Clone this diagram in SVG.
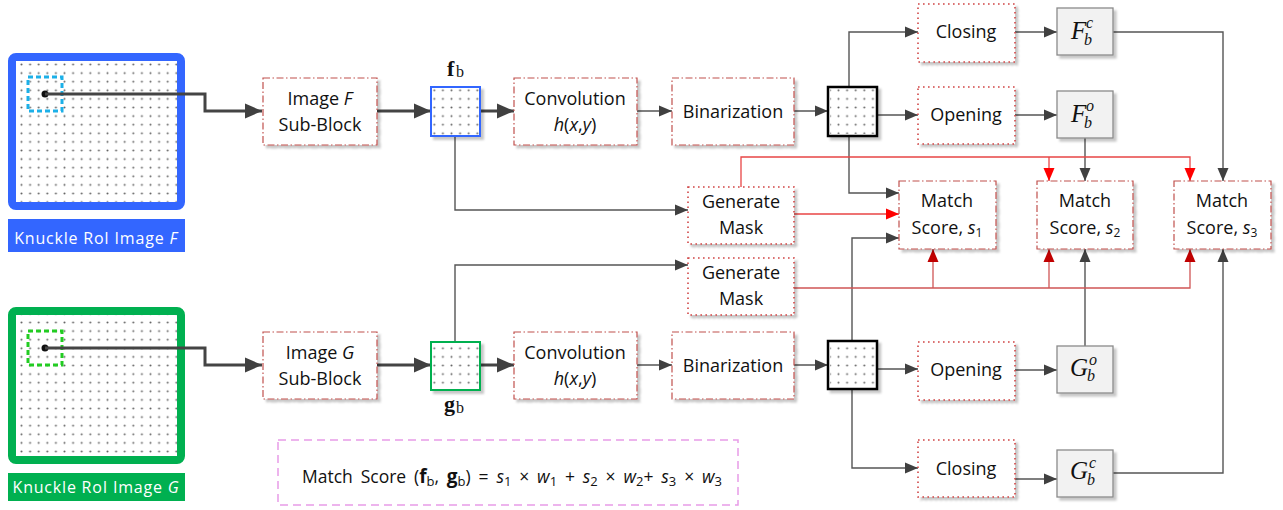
<svg xmlns="http://www.w3.org/2000/svg" width="1283" height="510" viewBox="0 0 1283 510">
<style>
.t{font-family:"Open Sans","Liberation Sans",sans-serif;font-size:18px;fill:#111;text-anchor:middle}
.lab{font-family:"Open Sans","Liberation Sans",sans-serif;font-size:16px;fill:#fff;letter-spacing:0.8px;text-anchor:middle}
.m{font-family:"Liberation Serif","DejaVu Serif",serif;font-style:italic;fill:#111}
.dd{fill:#fff;stroke:#c0504d;stroke-width:1.2;stroke-dasharray:7 2.5 1.5 2.5}
.dt{fill:#fff;stroke:#d04545;stroke-width:1.6;stroke-dasharray:1.6 3.4}
.mb{fill:#f2f2f2;stroke:#8a8a8a;stroke-width:1.3}
.c{fill:none;stroke:#555;stroke-width:1.4}
.ck{fill:none;stroke:#444;stroke-width:3}
.r1{fill:none;stroke:#e84545;stroke-width:1.3}
.r2{fill:none;stroke:#d05555;stroke-width:1.3}
</style>
<defs>
<pattern id="dots" x="0" y="0" width="8.6" height="8.6" patternUnits="userSpaceOnUse"><circle cx="4.3" cy="4.3" r="1" fill="#666"/></pattern>
<filter id="sh" x="-10%" y="-10%" width="130%" height="130%"><feDropShadow dx="3" dy="3" stdDeviation="1" flood-color="#000" flood-opacity="0.22"/></filter>
<marker id="ag" markerUnits="userSpaceOnUse" markerWidth="14" markerHeight="12" refX="13" refY="6" orient="auto"><path d="M0,0.5 L13,6 L0,11.5 Z" fill="#404040"/></marker>
<marker id="agb" markerUnits="userSpaceOnUse" markerWidth="18" markerHeight="16" refX="17" refY="8" orient="auto"><path d="M0,0.5 L17,8 L0,15.5 Z" fill="#404040"/></marker>
<marker id="ar" markerUnits="userSpaceOnUse" markerWidth="14" markerHeight="12" refX="13" refY="6" orient="auto"><path d="M0,0.5 L13,6 L0,11.5 Z" fill="#ff0000"/></marker>
<marker id="ard" markerUnits="userSpaceOnUse" markerWidth="14" markerHeight="12" refX="13" refY="6" orient="auto"><path d="M0,0.5 L13,6 L0,11.5 Z" fill="#c00000"/></marker>
</defs>
<rect width="1283" height="510" fill="#fff"/>

<g id="imageF">
<rect x="12" y="57" width="169" height="149" rx="4" fill="#fff" stroke="#3366ff" stroke-width="8"/>
<rect x="16" y="61" width="161" height="141" fill="url(#dots)"/>
<rect x="28" y="77" width="34" height="34" fill="none" stroke="#1cb0e8" stroke-width="3" stroke-dasharray="5 3"/>
<rect x="8" y="219" width="177" height="33" fill="#3366ff"/>
<text class="lab" x="96" y="244">Knuckle RoI Image <tspan font-style="italic">F</tspan></text>
</g>
<g id="imageG">
<rect x="12" y="311" width="169" height="149" rx="4" fill="#fff" stroke="#00b050" stroke-width="8"/>
<rect x="16" y="315" width="161" height="141" fill="url(#dots)"/>
<rect x="28" y="331" width="34" height="34" fill="none" stroke="#22cc22" stroke-width="3" stroke-dasharray="5 3"/>
<rect x="8" y="473" width="177" height="28" fill="#00b050"/>
<text class="lab" x="96" y="493">Knuckle RoI Image <tspan font-style="italic">G</tspan></text>
</g>

<g id="connectors">
<circle cx="45" cy="94" r="3.5" fill="#111"/>
<path class="ck" d="M45 94 H205 V111 H262" marker-end="url(#agb)"/>
<path class="ck" d="M377 111 H431" marker-end="url(#agb)"/>
<path class="ck" d="M480 111 H514" marker-end="url(#agb)"/>
<path class="c" d="M637 111 H672" marker-end="url(#ag)"/>
<path class="c" d="M794 111 H828" marker-end="url(#ag)"/>
<path class="c" d="M877 115 H918" marker-end="url(#ag)"/>
<path class="c" d="M849 87 V32 H918" marker-end="url(#ag)"/>
<path class="c" d="M1015 32 H1057" marker-end="url(#ag)"/>
<path class="c" d="M1015 115 H1057" marker-end="url(#ag)"/>
<path class="c" d="M1113 32 H1223 V181" marker-end="url(#ag)"/>
<path class="c" d="M1085 138 V181" marker-end="url(#ag)"/>
<path class="c" d="M849 136 V193 H899" marker-end="url(#ag)"/>
<path class="c" d="M455 136 V210 H688" marker-end="url(#ag)"/>
<path class="r1" d="M794 214 H899" marker-end="url(#ar)"/>
<path class="r1" d="M741 187 V157 H1190 V181" marker-end="url(#ar)"/>
<path class="r1" d="M1049 157 V181" marker-end="url(#ar)"/>

<circle cx="45" cy="348" r="3.5" fill="#111"/>
<path class="ck" d="M45 348 H205 V365 H262" marker-end="url(#agb)"/>
<path class="ck" d="M377 365 H431" marker-end="url(#agb)"/>
<path class="ck" d="M480 365 H514" marker-end="url(#agb)"/>
<path class="c" d="M637 365 H672" marker-end="url(#ag)"/>
<path class="c" d="M794 365 H828" marker-end="url(#ag)"/>
<path class="c" d="M877 369 H918" marker-end="url(#ag)"/>
<path class="c" d="M852 389 V468 H918" marker-end="url(#ag)"/>
<path class="c" d="M852 341 V238 H899" marker-end="url(#ag)"/>
<path class="c" d="M455 342 V265 H688" marker-end="url(#ag)"/>
<path class="c" d="M1015 370 H1057" marker-end="url(#ag)"/>
<path class="c" d="M1015 479 H1057" marker-end="url(#ag)"/>
<path class="c" d="M1085 346 V249" marker-end="url(#ag)"/>
<path class="c" d="M1113 473 H1223 V249" marker-end="url(#ag)"/>
<path class="r2" d="M794 288 H1190 V249" marker-end="url(#ard)"/>
<path class="r2" d="M933 288 V249" marker-end="url(#ard)"/>
<path class="r2" d="M1049 288 V249" marker-end="url(#ard)"/>
</g>

<g id="subF"><rect class="dd" x="263" y="78" width="114" height="67" filter="url(#sh)"/>
<text class="t" x="320" y="105">Image <tspan font-style="italic">F</tspan></text><text class="t" x="320" y="131">Sub-Block</text></g>
<g id="fb"><rect x="431" y="87" width="49" height="49" fill="#fff" stroke="#3366ff" stroke-width="2" filter="url(#sh)"/>
<rect x="432" y="88" width="47" height="47" fill="url(#dots)"/>
<text x="447" y="76" font-family="Liberation Serif,serif" font-weight="bold" font-size="22" fill="#111">f</text><text x="456" y="77" font-family="Liberation Serif,serif" font-size="16" fill="#111">b</text></g>
<g id="convF"><rect class="dd" x="514" y="78" width="123" height="67" filter="url(#sh)"/>
<text class="t" x="575" y="105">Convolution</text><text class="t" x="575" y="131"><tspan font-style="italic">h</tspan>(<tspan font-style="italic">x</tspan>,<tspan font-style="italic">y</tspan>)</text></g>
<g id="binF"><rect class="dd" x="672" y="78" width="122" height="67" filter="url(#sh)"/>
<text class="t" x="733" y="118">Binarization</text></g>
<g id="sqF"><rect x="828" y="87" width="49" height="49" fill="#fff" stroke="#000" stroke-width="2.5" filter="url(#sh)"/>
<rect x="830" y="89" width="45" height="45" fill="url(#dots)"/></g>
<g id="closeF"><rect class="dt" x="918" y="4" width="97" height="58" filter="url(#sh)"/><text class="t" x="966" y="38">Closing</text></g>
<g id="openF"><rect class="dt" x="918" y="87" width="97" height="57" filter="url(#sh)"/><text class="t" x="966" y="121">Opening</text></g>
<g id="Fbc"><rect class="mb" x="1057" y="8" width="56" height="47" filter="url(#sh)"/>
<text class="m" x="1071" y="39" font-size="25">F</text><text class="m" x="1086" y="28" font-size="16">c</text><text class="m" x="1084" y="45" font-size="16">b</text></g>
<g id="Fbo"><rect class="mb" x="1057" y="91" width="56" height="47" filter="url(#sh)"/>
<text class="m" x="1071" y="122" font-size="25">F</text><text class="m" x="1086" y="111" font-size="16">o</text><text class="m" x="1084" y="128" font-size="16">b</text></g>
<g id="maskF"><rect class="dt" x="688" y="187" width="106" height="57" filter="url(#sh)"/>
<text class="t" x="741" y="208">Generate</text><text class="t" x="741" y="234">Mask</text></g>
<g id="maskG"><rect class="dt" x="688" y="258" width="106" height="57" filter="url(#sh)"/>
<text class="t" x="741" y="279">Generate</text><text class="t" x="741" y="305">Mask</text></g>
<g id="s1"><rect class="dd" x="899" y="181" width="97" height="68" filter="url(#sh)"/>
<text class="t" x="947" y="207">Match</text><text class="t" x="947" y="234">Score, <tspan font-style="italic">s</tspan><tspan font-size="12" dy="3">1</tspan></text></g>
<g id="s2"><rect class="dd" x="1037" y="181" width="96" height="68" filter="url(#sh)"/>
<text class="t" x="1085" y="207">Match</text><text class="t" x="1085" y="234">Score, <tspan font-style="italic">s</tspan><tspan font-size="12" dy="3">2</tspan></text></g>
<g id="s3"><rect class="dd" x="1174" y="181" width="97" height="68" filter="url(#sh)"/>
<text class="t" x="1222" y="207">Match</text><text class="t" x="1222" y="234">Score, <tspan font-style="italic">s</tspan><tspan font-size="12" dy="3">3</tspan></text></g>

<g id="subG"><rect class="dd" x="263" y="332" width="114" height="67" filter="url(#sh)"/>
<text class="t" x="320" y="359">Image <tspan font-style="italic">G</tspan></text><text class="t" x="320" y="385">Sub-Block</text></g>
<g id="gb"><rect x="431" y="342" width="49" height="48" fill="#fff" stroke="#00b050" stroke-width="2" filter="url(#sh)"/>
<rect x="432" y="343" width="47" height="46" fill="url(#dots)"/>
<text x="444" y="411" font-family="Liberation Serif,serif" font-weight="bold" font-size="22" fill="#111">g</text><text x="456" y="413" font-family="Liberation Serif,serif" font-size="16" fill="#111">b</text></g>
<g id="convG"><rect class="dd" x="514" y="332" width="123" height="67" filter="url(#sh)"/>
<text class="t" x="575" y="359">Convolution</text><text class="t" x="575" y="385"><tspan font-style="italic">h</tspan>(<tspan font-style="italic">x</tspan>,<tspan font-style="italic">y</tspan>)</text></g>
<g id="binG"><rect class="dd" x="672" y="332" width="122" height="67" filter="url(#sh)"/>
<text class="t" x="733" y="372">Binarization</text></g>
<g id="sqG"><rect x="828" y="341" width="49" height="48" fill="#fff" stroke="#000" stroke-width="2.5" filter="url(#sh)"/>
<rect x="830" y="343" width="45" height="44" fill="url(#dots)"/></g>
<g id="openG"><rect class="dt" x="918" y="342" width="97" height="58" filter="url(#sh)"/><text class="t" x="966" y="376">Opening</text></g>
<g id="closeG"><rect class="dt" x="918" y="440" width="97" height="57" filter="url(#sh)"/><text class="t" x="966" y="475">Closing</text></g>
<g id="Gbo"><rect class="mb" x="1057" y="346" width="56" height="47" filter="url(#sh)"/>
<text class="m" x="1070" y="376" font-size="25">G</text><text class="m" x="1089" y="365" font-size="16">o</text><text class="m" x="1087" y="381" font-size="16">b</text></g>
<g id="Gbc"><rect class="mb" x="1057" y="450" width="56" height="47" filter="url(#sh)"/>
<text class="m" x="1070" y="479" font-size="25">G</text><text class="m" x="1089" y="468" font-size="16">c</text><text class="m" x="1087" y="485" font-size="16">b</text></g>

<g id="formula"><rect x="278" y="440" width="460" height="65" fill="none" stroke="#e89ce8" stroke-width="1.5" stroke-dasharray="8 5"/>
<text x="302" y="483" font-family="Open Sans,Liberation Sans,sans-serif" font-size="17.5" word-spacing="3.3" fill="#111">Match Score (<tspan font-weight="bold" font-size="19">f</tspan><tspan font-size="13" dy="3">b</tspan><tspan dy="-3">, </tspan><tspan font-weight="bold" font-size="19">g</tspan><tspan font-size="13" dy="3">b</tspan><tspan dy="-3">) = </tspan><tspan font-style="italic">s</tspan><tspan font-size="13" dy="3">1</tspan><tspan dy="-3"> × </tspan><tspan font-style="italic">w</tspan><tspan font-size="13" dy="3">1</tspan><tspan dy="-3"> + </tspan><tspan font-style="italic">s</tspan><tspan font-size="13" dy="3">2</tspan><tspan dy="-3"> × </tspan><tspan font-style="italic">w</tspan><tspan font-size="13" dy="3">2</tspan><tspan dy="-3">+ </tspan><tspan font-style="italic">s</tspan><tspan font-size="13" dy="3">3</tspan><tspan dy="-3"> × </tspan><tspan font-style="italic">w</tspan><tspan font-size="13" dy="3">3</tspan></text></g>
</svg>
